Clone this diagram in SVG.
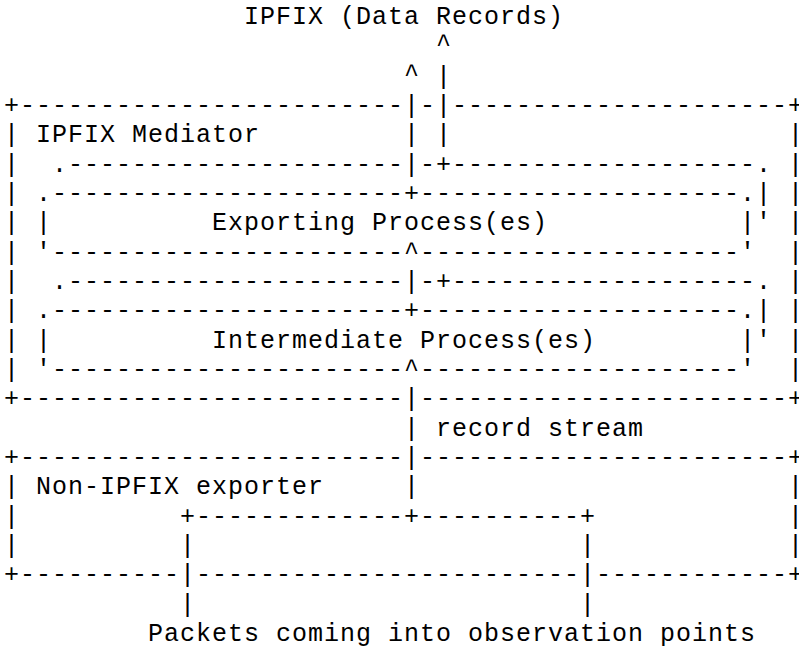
<svg xmlns="http://www.w3.org/2000/svg" width="799" height="651" viewBox="0 0 799 651">
<style>
text { font-family: 'Liberation Mono', 'Courier New', monospace; font-size: 25px; letter-spacing: 1px; fill: #000; white-space: pre; }
</style>
<rect width="799" height="651" fill="#fff"/>
<g id="title">
<text x="244" y="24">IPFIX (Data Records)</text>
</g>
<g id="mediator">
<text x="4" y="113">+------------------------</text>
<text x="420" y="113">-</text>
<text x="452" y="113">---------------------+</text>
<text x="4" y="142.33">| IPFIX Mediator</text>
<text x="788" y="142.33">|</text>
<text x="4" y="171.67">|</text><text x="788" y="171.67">|</text>
<text x="4" y="201">|</text><text x="788" y="201">|</text>
<text x="4" y="230.33">|</text><text x="788" y="230.33">|</text>
<text x="4" y="259.67">|</text><text x="788" y="259.67">|</text>
<text x="4" y="289">|</text><text x="788" y="289">|</text>
<text x="4" y="318.33">|</text><text x="788" y="318.33">|</text>
<text x="4" y="347.67">|</text><text x="788" y="347.67">|</text>
<text x="4" y="377">|</text><text x="788" y="377">|</text>
<text x="4" y="406.33">+------------------------</text>
<text x="420" y="406.33">-----------------------+</text>
</g>
<g id="exporting">
<text x="52" y="171.67">.---------------------</text>
<text x="420" y="171.67">-</text>
<text x="452" y="171.67">-------------------.</text>
<text x="36" y="201">.----------------------</text>
<text x="420" y="201">--------------------.|</text>
<text x="36" y="230.33">|</text>
<text x="212" y="230.33">Exporting Process(es)</text>
<text x="740" y="230.33">|'</text>
<text x="36" y="259.67">'----------------------</text>
<text x="420" y="259.67">--------------------'</text>
</g>
<g id="intermediate">
<text x="52" y="289">.---------------------</text>
<text x="420" y="289">-</text>
<text x="452" y="289">-------------------.</text>
<text x="36" y="318.33">.----------------------</text>
<text x="420" y="318.33">--------------------.|</text>
<text x="36" y="347.67">|</text>
<text x="212" y="347.67">Intermediate Process(es)</text>
<text x="740" y="347.67">|'</text>
<text x="36" y="377">'----------------------</text>
<text x="420" y="377">--------------------'</text>
</g>
<g id="exporter">
<text x="4" y="465">+------------------------</text>
<text x="420" y="465">-----------------------+</text>
<text x="4" y="494.33">| Non-IPFIX exporter</text>
<text x="788" y="494.33">|</text>
<text x="4" y="523.67">|</text><text x="788" y="523.67">|</text>
<text x="4" y="553">|</text><text x="788" y="553">|</text>
<text x="4" y="582.33">+----------</text>
<text x="196" y="582.33">------------------------</text>
<text x="596" y="582.33">------------+</text>
</g>
<g id="observation-points">
<text x="180" y="523.67">+-------------</text>
<text x="420" y="523.67">----------+</text>
</g>
<g id="connectors">
<text x="436" y="52">^</text>
<text x="404" y="82">^</text><text x="436" y="83.67">|</text>
<text x="404" y="113">|</text><text x="436" y="113">|</text>
<text x="404" y="142.33">|</text><text x="436" y="142.33">|</text>
<text x="404" y="171.67">|</text><text x="436" y="171.67">+</text>
<text x="404" y="201">+</text>
<text x="404" y="259.67">^</text>
<text x="404" y="289">|</text><text x="436" y="289">+</text>
<text x="404" y="318.33">+</text>
<text x="404" y="377">^</text>
<text x="404" y="406.33">|</text>
<text x="404" y="435.67">|</text>
<text x="436" y="435.67">record stream</text>
<text x="404" y="465">|</text>
<text x="404" y="494.33">|</text>
<text x="404" y="523.67">+</text>
<text x="180" y="553">|</text><text x="580" y="553">|</text>
<text x="180" y="582.33">|</text><text x="580" y="582.33">|</text>
<text x="180" y="611.67">|</text><text x="580" y="611.67">|</text>
<text x="148" y="641">Packets coming into observation points</text>
</g>
</svg>
